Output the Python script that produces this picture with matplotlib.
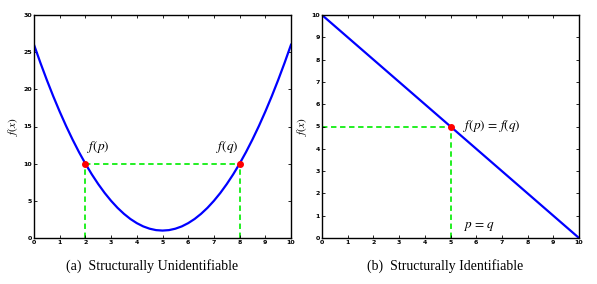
import matplotlib
matplotlib.use("Agg")
import matplotlib.pyplot as plt

plt.rcParams['mathtext.fontset'] = 'stix'

# Panel (a): parabola values
xa = [0, 0.25, 0.5, 0.75, 1, 1.25, 1.5, 1.75, 2, 2.25, 2.5, 2.75, 3, 3.25, 3.5, 3.75,
      4, 4.25, 4.5, 4.75, 5, 5.25, 5.5, 5.75, 6, 6.25, 6.5, 6.75, 7, 7.25, 7.5, 7.75,
      8, 8.25, 8.5, 8.75, 9, 9.25, 9.5, 9.75, 10]
ya = [26, 23.56, 21.25, 19.06, 17, 15.06, 13.25, 11.56, 10, 8.56, 7.25, 6.06, 5, 4.06,
      3.25, 2.56, 2, 1.56, 1.25, 1.06, 1, 1.06, 1.25, 1.56, 2, 2.56, 3.25, 4.06, 5, 6.06,
      7.25, 8.56, 10, 11.56, 13.25, 15.06, 17, 19.06, 21.25, 23.56, 26]
pa = [2, 8]
fa = [10, 10]

# Panel (b): straight line
xb = [0, 10]
yb = [10, 0]
pb = [5]
fb = [5]

xticks = list(range(0, 11))
yticks_a = [0, 5, 10, 15, 20, 25, 30]
yticks_b = list(range(0, 11))

fig = plt.figure(figsize=(5.97, 2.84), dpi=100)
W, H = 597, 284
axa = fig.add_axes([34 / W, 1 - 238 / H, (291 - 34) / W, (238 - 15) / H])
axb = fig.add_axes([322 / W, 1 - 238 / H, (579 - 322) / W, (238 - 15) / H])

green = '#11ee11'
blue = '#0000ff'
dash = (0, (3, 2))

def style(ax, yt, ylim):
    ax.set_xlim(0, 10)
    ax.set_ylim(*ylim)
    ax.set_xticks(xticks)
    ax.set_yticks(yt)
    ax.tick_params(direction='in', top=True, right=True, length=2.5, width=0.6,
                   labelsize=4.5, pad=1.5)
    for lab in ax.get_xticklabels() + ax.get_yticklabels():
        lab.set_fontweight('bold')
    for s in ax.spines.values():
        s.set_linewidth(1.0)
    ax.set_ylabel('$f(x)$', fontsize=8, labelpad=2)

# (a)
axa.plot(xa, ya, color=blue, lw=1.6, zorder=2, solid_joinstyle='round')
axa.plot([pa[0], pa[1]], [fa[0], fa[1]], color=green, lw=1.3, ls=dash, zorder=1)
for p, f in zip(pa, fa):
    axa.plot([p, p], [0, f], color=green, lw=1.3, ls=dash, zorder=1)
axa.plot(pa, fa, 'o', color='red', ms=4, zorder=3)
axa.text(2.05, 11.2, '$f(p)$', fontsize=9.5, ha='left', va='bottom')
axa.text(7.95, 11.2, '$f(q)$', fontsize=9.5, ha='right', va='bottom')
style(axa, yticks_a, (0, 30))

# (b)
axb.plot(xb, yb, color=blue, lw=1.6, zorder=2)
axb.plot([0, pb[0]], [fb[0], fb[0]], color=green, lw=1.3, ls=dash, zorder=1)
axb.plot([pb[0], pb[0]], [0, fb[0]], color=green, lw=1.3, ls=dash, zorder=1)
axb.plot(pb, fb, 'o', color='red', ms=4, zorder=3)
axb.text(5.5, 5.0, r'$f(p)\,=\,f(q)$', fontsize=9.5, ha='left', va='center')
axb.text(5.5, 0.5, r'$p\,=\,q$', fontsize=9.5, ha='left', va='center')
style(axb, yticks_b, (0, 10))

fig.text(152 / W, 1 - 266 / H, '(a)  Structurally Unidentifiable', fontsize=10,
         family='Liberation Serif', ha='center', va='center')
fig.text(445 / W, 1 - 266 / H, '(b)  Structurally Identifiable', fontsize=10,
         family='Liberation Serif', ha='center', va='center')

fig.savefig('out.png', dpi=100)
